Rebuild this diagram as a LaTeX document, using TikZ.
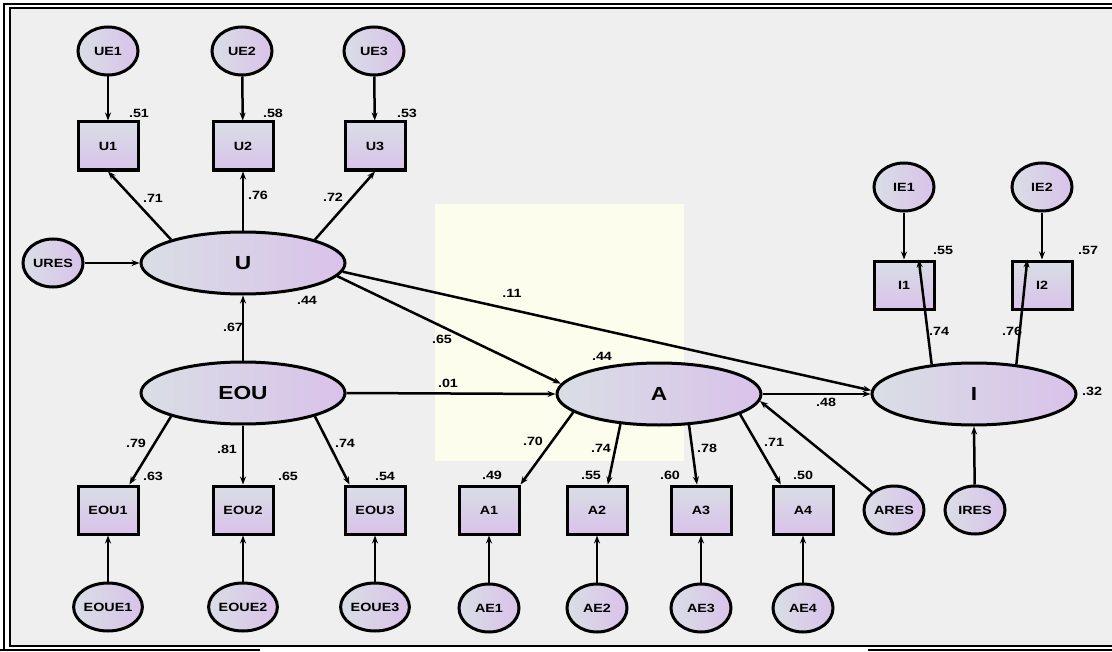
\documentclass[tikz,border=0pt]{standalone}
\usepackage{fontspec}
\setmainfont[FakeStretch=1.2]{Liberation Sans}
\usetikzlibrary{shapes.geometric,arrows.meta}
\definecolor{bgc}{HTML}{EFEFEF}
\definecolor{yel}{HTML}{FDFDEE}
\definecolor{shL}{HTML}{D9DEE5}
\definecolor{shR}{HTML}{D9C2EA}
\tikzset{
  lat/.style={ellipse,line width=3bp,minimum width=204bp,minimum height=62bp,inner sep=0pt,left color=shL,right color=shR,postaction={draw,line width=3bp},font=\bfseries\fontsize{19}{19}\selectfont},
  err/.style={ellipse,line width=3bp,minimum width=60bp,minimum height=48bp,inner sep=0pt,left color=shL,right color=shR,postaction={draw,line width=3bp},font=\bfseries\fontsize{12}{12}\selectfont},
  obs/.style={rectangle,draw,line width=3bp,minimum width=60bp,minimum height=48bp,inner sep=0pt,top color=shL,bottom color=shR,font=\bfseries\fontsize{12}{12}\selectfont},
  pth/.style={line width=2.5bp,-{Stealth[length=8bp,width=6bp]}},
  lab/.style={inner sep=0pt,font=\bfseries\fontsize{12}{12}\selectfont},
  frame/.style={line width=1.6bp,black}
}
\begin{document}
\begin{tikzpicture}[x=1bp,y=-1bp]
\useasboundingbox (0,0) rectangle (1112,652);
\fill[white] (0,0) rectangle (1112,652);
\fill[bgc] (10,8) rectangle (1112,646);
\draw[frame] (4,651) -- (4,4) -- (1112,4);
\draw[frame] (1112,646) -- (10,646) -- (10,8) -- (1112,8);
\draw[line width=2.8bp] (0,650) -- (260,650);
\draw[line width=2.8bp] (868,650) -- (1112,650);
\fill[yel] (435,204) rectangle (684,461);

% U block
\node[err] (UE1) at (108,51) {UE1};
\node[err] (UE2) at (242,51) {UE2};
\node[err] (UE3) at (374,51) {UE3};
\node[obs] (U1) at (108,146) {U1};
\node[obs] (U2) at (243,146) {U2};
\node[obs] (U3) at (375,146) {U3};
\node[lat] (U) at (243,263) {U};
\node[err] (URES) at (53,263) {URES};

% EOU block
\node[lat] (EOU) at (243,393) {EOU};
\node[obs] (EOU1) at (108,510) {EOU1};
\node[obs] (EOU2) at (243,510) {EOU2};
\node[obs] (EOU3) at (375,510) {EOU3};
\node[err] (EOUE1) at (108,607) {EOUE1};
\node[err] (EOUE2) at (243,607) {EOUE2};
\node[err] (EOUE3) at (375,607) {EOUE3};

% A block
\node[lat] (A) at (659,394) {A};
\node[obs] (A1) at (489,510) {A1};
\node[obs] (A2) at (597,510) {A2};
\node[obs] (A3) at (701,510) {A3};
\node[obs] (A4) at (803,510) {A4};
\node[err] (AE1) at (489,608) {AE1};
\node[err] (AE2) at (597,608) {AE2};
\node[err] (AE3) at (701,608) {AE3};
\node[err] (AE4) at (803,608) {AE4};
\node[err] (ARES) at (894,510) {ARES};

% I block
\node[lat] (I) at (974,394) {I};
\node[obs] (I1) at (904,285) {I1};
\node[obs] (I2) at (1042,285) {I2};
\node[err] (IE1) at (904,187) {IE1};
\node[err] (IE2) at (1042,187) {IE2};
\node[err] (IRES) at (975,510) {IRES};

% connectors
\draw[pth] (UE1) -- (U1);
\draw[pth] (UE2) -- (U2);
\draw[pth] (UE3) -- (U3);
\draw[pth] (U.162) -- (U1.south);
\draw[pth] (U.north) -- (U2.south);
\draw[pth] (U.18) -- (U3.south);
\draw[pth] (URES) -- (U);
\draw[pth] (EOU.north) -- (U.south);
\draw[pth] (U.-8) -- (A.174);
\draw[pth] (U.-5) -- (I.178);
\draw[pth] (EOU.east) -- (A.west);
\draw[pth] (A.east) -- (I.west);
\draw[pth] (EOU.198) -- (EOU1.50);
\draw[pth] (EOU.south) -- (EOU2.north);
\draw[pth] (EOU.342) -- (EOU3.135);
\draw[pth] (EOUE1) -- (EOU1);
\draw[pth] (EOUE2) -- (EOU2);
\draw[pth] (EOUE3) -- (EOU3);
\draw[pth] (A.192) -- (A1.north east);
\draw[pth] (A.218) -- (A2.67);
\draw[pth] (A.314) -- (A3.99);
\draw[pth] (A.346) -- (A4.131);
\draw[pth] (AE1) -- (A1);
\draw[pth] (AE2) -- (A2);
\draw[pth] (AE3) -- (A3);
\draw[pth] (AE4) -- (A4);
\draw[pth] (ARES) -- (A.-4);
\draw[pth] (IRES) -- (I.south);
\draw[pth] (IE1) -- (I1);
\draw[pth] (IE2) -- (I2);
\draw[pth] (I.145) -- (I1.60);
\draw[pth] (I.35) -- (I2.120);

% labels
\node[lab] (l51) at (139,113) {.51};
\node[lab] (l58) at (273,113) {.58};
\node[lab] (l53) at (407,113) {.53};
\node[lab] (l71) at (153,198) {.71};
\node[lab] (l76) at (258,195) {.76};
\node[lab] (l72) at (333,197) {.72};
\node[lab] (l44u) at (307,300) {.44};
\node[lab] (l67) at (233,327) {.67};
\node[lab] (l79) at (136,443) {.79};
\node[lab] (l81) at (227,449) {.81};
\node[lab] (l74e) at (345,443) {.74};
\node[lab] (l63) at (153,476) {.63};
\node[lab] (l65e) at (288,476) {.65};
\node[lab] (l54) at (385,476) {.54};
\node[lab] (l65) at (442,339) {.65};
\node[lab] (l01) at (448,383) {.01};
\node[lab] (l11) at (512,293) {.11};
\node[lab] (l44a) at (602,356) {.44};
\node[lab] (l70) at (533,441) {.70};
\node[lab] (l74a) at (601,448) {.74};
\node[lab] (l78) at (707,448) {.78};
\node[lab] (l71a) at (774,442) {.71};
\node[lab] (l49) at (492,475) {.49};
\node[lab] (l55a) at (591,475) {.55};
\node[lab] (l60) at (670,475) {.60};
\node[lab] (l50) at (803,475) {.50};
\node[lab] (l48) at (826,402) {.48};
\node[lab] (l32) at (1092,391) {.32};
\node[lab] (l55i) at (943,250) {.55};
\node[lab] (l57) at (1088,250) {.57};
\node[lab] (l74i) at (939,331) {.74};
\node[lab] (l76i) at (1012,331) {.76};
\end{tikzpicture}
\end{document}
